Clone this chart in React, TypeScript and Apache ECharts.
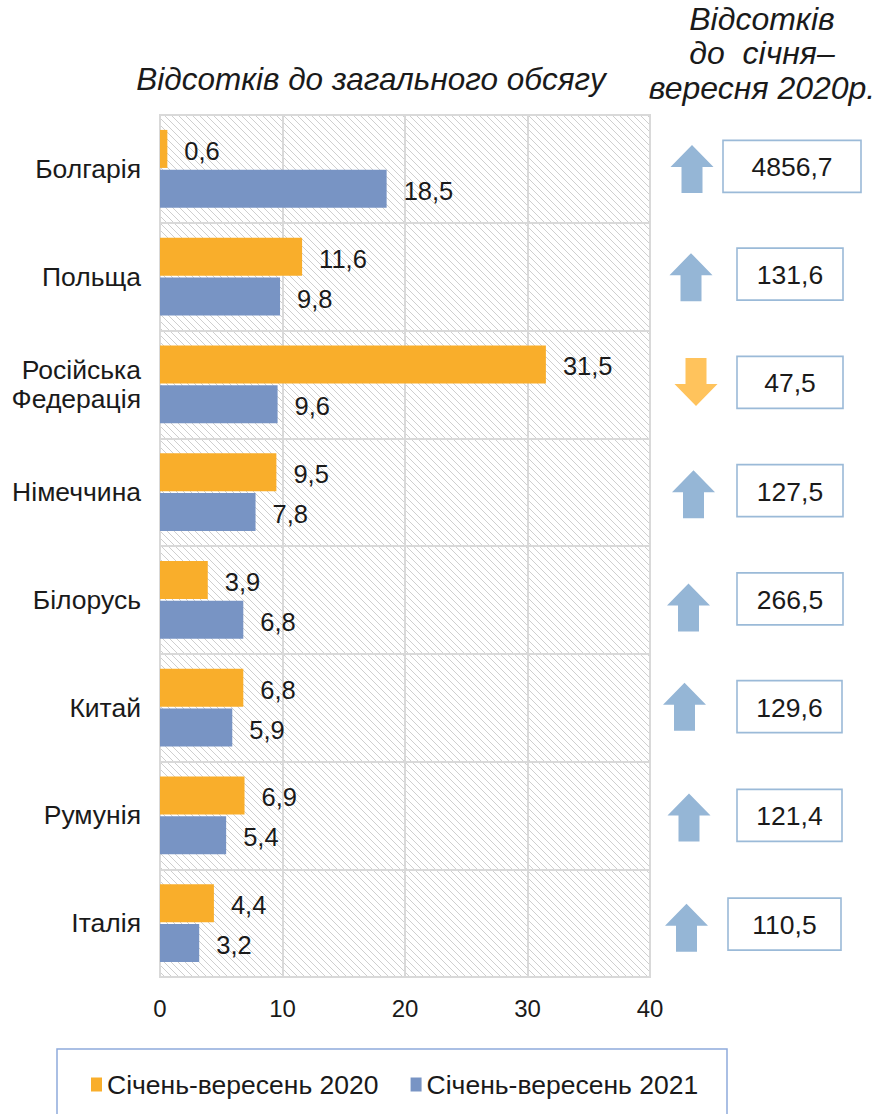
import React, { useEffect, useRef } from "react";
import * as echarts from "echarts";

const countries = [
  "Болгарія",
  "Польща",
  "Російська\nФедерація",
  "Німеччина",
  "Білорусь",
  "Китай",
  "Румунія",
  "Італія",
];
const share2020 = [0.6, 11.6, 31.5, 9.5, 3.9, 6.8, 6.9, 4.4];
const share2021 = [18.5, 9.8, 9.6, 7.8, 6.8, 5.9, 5.4, 3.2];
const growthPct = [4856.7, 131.6, 47.5, 127.5, 266.5, 129.6, 121.4, 110.5];
const seriesNames = ["Січень-вересень 2020", "Січень-вересень 2021"];
const axisMin = 0;
const axisMax = 40;
const axisStep = 10;
const leftHeader = "Відсотків до загального обсягу";
const rightHeader = ["Відсотків", "до  січня–", "вересня 2020р."];

// layout of the right-hand annotations (pixel offsets relative to category centre)
const arrowLayout = [
  { cx: 692, dy: 0, boxX: 723, boxW: 138, boxDy: -2.5 },
  { cx: 691, dy: 0.5, boxX: 737, boxW: 106, boxDy: -2.5 },
  { cx: 696, dy: -2.5, boxX: 737, boxW: 106, boxDy: -2 },
  { cx: 693.5, dy: 2, boxX: 737, boxW: 106, boxDy: -1.5 },
  { cx: 688.5, dy: 7.5, boxX: 737, boxW: 106, boxDy: -1 },
  { cx: 684.5, dy: -1, boxX: 737, boxW: 105, boxDy: -1 },
  { cx: 689, dy: 2, boxX: 737, boxW: 105, boxDy: 0 },
  { cx: 686.5, dy: 4.5, boxX: 728, boxW: 113, boxDy: 1 },
];

const FONT = '"Liberation Sans", Arial, sans-serif';
const TEXT = "#1a1a1a";
const ORANGE = "#F9AE2B";
const BLUE = "#7894C4";

const fmt = (v: number) => v.toFixed(1).replace(".", ",");

function makeHatch() {
  const c = document.createElement("canvas");
  const n = 7;
  c.width = n;
  c.height = n;
  const ctx = c.getContext("2d")!;
  ctx.fillStyle = "#ffffff";
  ctx.fillRect(0, 0, n, n);
  ctx.fillStyle = "#cfcfcf";
  for (let i = 0; i < n; i++) ctx.fillRect(i, i, 1, 1);
  return c;
}

export default function App() {
  const ref = useRef<HTMLDivElement>(null);
  useEffect(() => {
    document.body.style.margin = "0";
    const chart = echarts.init(ref.current!, undefined, { renderer: "svg" });
    const hatch = makeHatch();
    const labelCommon = {
      show: true,
      position: "right" as const,
      distance: 17,
      offset: [0, 2],
      color: TEXT,
      fontSize: 25.5,
      fontFamily: FONT,
      formatter: (p: any) => fmt(p.value),
    };
    chart.setOption({
      animation: false,
      textStyle: { fontFamily: FONT },
      grid: {
        left: 160,
        right: 224,
        top: 115,
        bottom: 137,
        show: true,
        borderColor: "#D9D9D9",
        borderWidth: 2,
        backgroundColor: {
          image: hatch,
          repeat: "repeat",
          imageWidth: 7,
          imageHeight: 7,
        } as any,
      },
      legend: {
        data: seriesNames,
        left: 91,
        top: 1071,
        padding: 0,
        icon: "rect",
        itemWidth: 11,
        itemHeight: 14,
        itemGap: 32,
        textStyle: { color: TEXT, fontSize: 26.5, fontFamily: FONT },
      },
      xAxis: {
        type: "value",
        min: axisMin,
        max: axisMax,
        interval: axisStep,
        axisLine: { show: false },
        axisTick: { show: false },
        splitLine: { show: true, lineStyle: { color: "#D9D9D9", width: 2 } },
        axisLabel: {
          color: TEXT,
          fontSize: 24,
          fontFamily: FONT,
          margin: 19,
        },
      },
      yAxis: {
        type: "category",
        data: countries,
        inverse: true,
        axisLine: { show: false },
        axisTick: { show: false },
        splitLine: { show: true, lineStyle: { color: "#D9D9D9", width: 2 } },
        axisLabel: {
          color: TEXT,
          fontSize: 26.5,
          fontFamily: FONT,
          margin: 19,
          lineHeight: 29,
          align: "right",
        },
      },
      series: [
        {
          name: seriesNames[0],
          type: "bar",
          data: share2020,
          barWidth: 38,
          barGap: "5%",
          itemStyle: { color: ORANGE },
          label: labelCommon,
        },
        {
          name: seriesNames[1],
          type: "bar",
          data: share2021,
          barWidth: 38,
          barGap: "5%",
          itemStyle: { color: BLUE },
          label: labelCommon,
        },
      ],
    });

    const graphics: any[] = [];
    graphics.push({
      type: "text",
      x: 371,
      y: 79,
      style: {
        text: leftHeader,
        font: `italic 31.5px ${FONT}`,
        fill: TEXT,
        align: "center",
        verticalAlign: "middle",
      },
    });
    const headerYs = [19, 53, 88];
    rightHeader.forEach((t, i) => {
      graphics.push({
        type: "text",
        x: 762,
        y: headerYs[i],
        style: {
          text: t,
          font: `italic 32px ${FONT}`,
          fill: TEXT,
          align: "center",
          verticalAlign: "middle",
        },
      });
    });

    growthPct.forEach((g, i) => {
      const cy = chart.convertToPixel({ yAxisIndex: 0 }, i) as number;
      const L = arrowLayout[i];
      const ay = cy + L.dy;
      const up = g >= 100;
      const s = up ? 1 : -1;
      const pts = [
        [0, -24],
        [21.5, -2],
        [10.5, -2],
        [10.5, 24],
        [-10.5, 24],
        [-10.5, -2],
        [-21.5, -2],
      ].map(([x, y]) => [L.cx + x, ay + s * y]);
      graphics.push({
        type: "polygon",
        shape: { points: pts },
        style: { fill: up ? "#95B6D6" : "#FFC35C" },
      });
      const by = cy + L.boxDy;
      graphics.push({
        type: "rect",
        shape: { x: L.boxX, y: by - 26, width: L.boxW, height: 52 },
        style: { fill: "#ffffff", stroke: "#9BBAD8", lineWidth: 1.6 },
      });
      graphics.push({
        type: "text",
        x: L.boxX + L.boxW / 2,
        y: by + 1,
        style: {
          text: fmt(g),
          font: `26.5px ${FONT}`,
          fill: TEXT,
          align: "center",
          verticalAlign: "middle",
        },
      });
    });

    graphics.push({
      type: "rect",
      z: -1,
      shape: { x: 57, y: 1049, width: 670, height: 90 },
      style: { fill: "none", stroke: "#8FAADC", lineWidth: 1.5 },
    });

    chart.setOption({ graphic: graphics });
    return () => chart.dispose();
  }, []);
  return <div ref={ref} style={{ width: 874, height: 1114 }} />;
}
